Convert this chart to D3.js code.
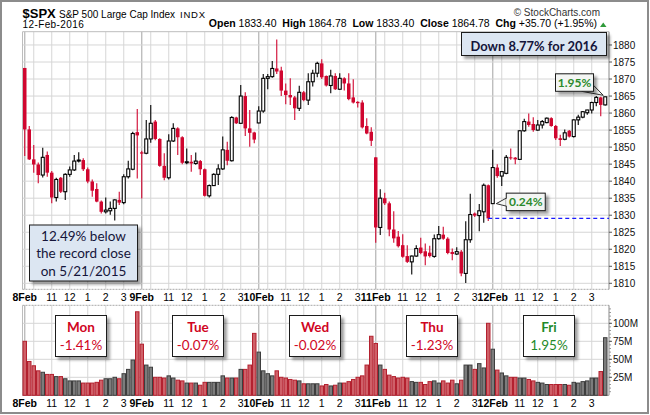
<!DOCTYPE html>
<html><head><meta charset="utf-8">
<script src="https://cdn.jsdelivr.net/npm/d3@7"></script>
<style>body{margin:0;background:#fff}svg{display:block}</style>
</head><body>
<svg id="c" width="650" height="415"></svg>
<script>
// ---------- DATA ----------
const dayLabels = ["8Feb","9Feb","10Feb","11Feb","12Feb"];
const dayNames = ["Mon","Tue","Wed","Thu","Fri"];
const dayChanges = ["-1.41%","-0.07%","-0.02%","-1.23%","1.95%"];
const hourLabels = ["11","12","1","2","3"];
const hourOffsets = [6,10,14,18,22];
const gridOffsets = [2,6,10,14,18,22];
const barsPerDay = 26;
const priceTicks = [1810,1815,1820,1825,1830,1835,1840,1845,1850,1855,1860,1865,1870,1875,1880];
const volumeTicks = [25,50,75,100];
const volumeTickLabels = ["25M","50M","75M","100M"];

const open = [
1873.25,1855.2,1846.4,1844.9,1841.8,1847.7,1842.5,1835.2,1841.0,1836.9,1842.0,1843.3,1845.9,1846.2,1843.5,1839.9,1837.7,1834.0,1831.0,1831.3,1832.0,1834.5,1833.7,1841.3,1843.5,1854.4,
1848.46,1848.2,1852.4,1857.5,1852.4,1844.5,1841.0,1851.8,1855.5,1852.9,1845.4,1845.7,1845.2,1845.9,1843.5,1835.7,1838.7,1842.0,1843.6,1849.2,1846.0,1858.7,1857.0,1865.0,1855.5,1854.3,
1857.1,1860.6,1870.2,1870.7,1873.1,1872.5,1866.6,1865.3,1864.6,1861.4,1866.1,1863.8,1869.2,1871.7,1874.6,1870.9,1868.1,1870.9,1867.0,1870.2,1868.7,1864.6,1863.3,1863.1,1856.2,1854.5,
1847.0,1826.4,1835.0,1833.5,1825.8,1823.7,1821.2,1818.0,1816.3,1818.0,1820.5,1819.4,1819.0,1817.9,1823.1,1824.3,1823.1,1819.2,1818.6,1819.3,1812.9,1822.8,1830.5,1829.9,1831.0,1838.8,
1833.4,1844.0,1841.5,1842.3,1847.0,1846.9,1846.4,1854.8,1857.5,1856.8,1855.0,1856.5,1857.2,1858.5,1856.2,1852.6,1852.3,1854.8,1853.1,1858.0,1858.8,1860.1,1860.9,1863.1,1864.6,1862.4];
const high = [
1873.25,1856.2,1850.6,1845.5,1849.8,1848.7,1843.0,1841.0,1841.2,1842.3,1844.3,1847.7,1848.5,1846.7,1844.0,1840.5,1839.4,1834.3,1835.2,1834.0,1834.7,1836.9,1842.0,1846.0,1854.5,1861.2,
1848.9,1858.0,1862.4,1858.0,1852.6,1848.2,1853.8,1857.0,1855.8,1853.2,1849.6,1847.7,1848.4,1846.2,1843.7,1839.0,1842.3,1845.0,1853.1,1851.6,1859.1,1858.9,1868.25,1866.1,1860.9,1854.5,
1862.0,1871.5,1871.5,1875.3,1881.6,1873.6,1868.7,1870.2,1865.0,1868.0,1866.5,1871.7,1872.7,1875.1,1875.8,1871.0,1872.7,1871.7,1871.7,1870.5,1871.7,1869.9,1863.5,1863.8,1858.5,1855.8,
1847.0,1837.6,1836.6,1834.0,1831.2,1825.4,1824.4,1821.2,1818.2,1821.2,1823.4,1821.7,1821.0,1824.3,1826.8,1826.6,1823.5,1820.2,1820.6,1819.8,1828.2,1836.3,1830.8,1833.3,1839.3,1839.0,
1849.2,1845.0,1843.0,1847.7,1849.6,1847.1,1855.0,1858.3,1859.9,1858.8,1858.0,1858.0,1858.7,1858.8,1856.5,1853.6,1855.2,1855.0,1858.2,1859.5,1860.6,1861.0,1863.3,1865.0,1864.8,1864.78];
const low = [
1847.4,1846.2,1842.5,1839.4,1841.1,1841.3,1833.5,1834.0,1836.5,1834.5,1841.3,1843.0,1845.5,1843.0,1839.4,1835.4,1833.8,1830.5,1830.5,1830.1,1828.46,1833.0,1833.2,1840.8,1843.2,1840.8,
1834.94,1847.9,1851.3,1852.0,1844.2,1840.3,1840.5,1851.5,1847.7,1845.0,1845.0,1842.8,1844.8,1841.8,1835.5,1835.2,1838.6,1838.9,1843.3,1844.7,1845.8,1856.8,1856.8,1853.3,1850.1,1851.1,
1857.0,1860.1,1867.0,1870.4,1871.5,1865.0,1862.6,1862.4,1858.0,1860.6,1863.5,1862.4,1867.8,1870.5,1870.0,1867.8,1865.8,1866.8,1866.8,1866.6,1863.8,1862.8,1861.6,1855.5,1853.8,1850.32,
1821.9,1824.2,1833.0,1823.8,1821.9,1820.5,1817.5,1816.0,1812.6,1817.8,1818.5,1815.3,1817.6,1817.5,1822.8,1822.8,1818.5,1816.8,1818.3,1812.1,1810.1,1821.9,1829.5,1825.3,1827.8,1828.3,
1833.4,1841.0,1838.6,1842.0,1846.3,1845.0,1846.2,1854.5,1856.0,1854.5,1854.8,1855.5,1857.0,1856.0,1852.1,1850.3,1852.0,1852.8,1852.8,1856.5,1858.5,1859.5,1859.9,1862.0,1859.1,1862.2];
const close = [
1855.2,1846.4,1844.9,1841.8,1847.0,1842.5,1835.2,1840.5,1836.9,1842.0,1843.3,1845.9,1846.2,1843.5,1839.9,1837.2,1834.0,1831.0,1831.5,1832.0,1834.5,1833.7,1841.3,1843.6,1854.0,1853.44,
1848.1,1852.4,1857.0,1852.4,1844.5,1841.0,1851.8,1855.5,1852.9,1845.4,1845.7,1845.2,1845.9,1843.5,1835.7,1838.7,1842.0,1843.6,1849.2,1846.0,1858.7,1857.0,1865.0,1855.5,1854.2,1852.21,
1860.6,1870.2,1870.7,1873.1,1872.2,1866.6,1865.3,1864.6,1861.4,1866.1,1863.8,1869.2,1871.7,1874.6,1870.5,1868.1,1870.9,1867.0,1870.2,1868.7,1864.1,1863.1,1862.9,1855.8,1854.0,1851.86,
1826.4,1835.0,1833.5,1825.8,1823.2,1820.9,1817.8,1816.3,1818.0,1820.2,1818.9,1817.9,1818.0,1823.1,1824.3,1823.1,1818.9,1818.6,1819.3,1812.9,1822.8,1830.2,1829.9,1831.3,1838.8,1829.08,
1844.0,1841.5,1842.8,1847.0,1846.7,1846.4,1854.8,1857.5,1856.5,1855.0,1856.5,1857.5,1858.5,1856.2,1852.6,1852.1,1854.2,1853.1,1858.0,1858.8,1860.4,1860.9,1863.1,1864.6,1862.4,1864.78];
const volume = [
75,47,41,34,32,29,29,26,26,23,20,20,20,17,17,17,18,21,23,23,25,23,30,36,49,116,
71,42,39,25,25,24,27,24,21,20,17,17,17,14,18,18,18,18,27,24,24,24,36,36,42,86,
60,34,30,27,34,25,24,22,21,20,16,16,16,16,13,15,13,14,17,17,19,22,25,27,42,82,
72,42,36,28,26,24,25,24,19,18,18,15,19,20,17,20,17,21,16,21,42,42,36,44,38,100,
64,35,31,27,25,25,24,24,22,20,18,17,15,15,15,15,15,14,18,17,19,20,24,24,33,80];
const prevClose = 1829.08;
const fridayOpen = 1833.40;
const gapLabel = "0.24%";
const lastLabel = "1.95%";
const yearNote = "Down 8.77% for 2016";
const recordNote = ["12.49% below","the record close","on 5/21/2015"];

// ---------- LAYOUT ----------
const svg = d3.select("#c");
const L = 22.5, R = 609;
const mainTop = 31.7, mainBot = 289.3, volTop = 305.3, volBot = 395.3;
const N = open.length;
const AR = "'Liberation Sans', Arial, sans-serif";
const CAL = "Lato, 'Open Sans', sans-serif";
const RED = "#d0062f";

const x = d3.scaleBand().domain(d3.range(N)).range([L, L + 4.5 * N]).padding(0);
const cx = i => x(i) + x.bandwidth() / 2;
const cxf = f => x(0) + x.step() * f + x.bandwidth() / 2;   // fractional bar position
const y = d3.scaleLinear().domain([1808.24, 1883.9]).range([mainBot, mainTop]);
const yv = d3.scaleLinear().domain([0, 125]).range([volBot, volTop]);

const defs = svg.append("defs");
defs.append("filter").attr("id","sh").attr("x","-20%").attr("y","-20%").attr("width","150%").attr("height","170%")
  .append("feDropShadow").attr("dx",3).attr("dy",3).attr("stdDeviation",1.6)
  .attr("flood-color","#000").attr("flood-opacity",0.38);

svg.append("rect").attr("width",650).attr("height",415).attr("fill","#fff");

// grids
function vGrid(top, bot) {
  const g = svg.append("g");
  dayLabels.forEach((d, k) => {
    gridOffsets.forEach(o => {
      const xx = cx(k * barsPerDay + o);
      g.append("line").attr("x1",xx).attr("x2",xx).attr("y1",top).attr("y2",bot)
        .attr("stroke","#d6d6d6").attr("stroke-width",1);
    });
  });
  dayLabels.forEach((d, k) => {
    const xx = cx(k * barsPerDay);
    g.append("line").attr("x1",xx).attr("x2",xx).attr("y1",top).attr("y2",bot)
      .attr("stroke","#b3b3b3").attr("stroke-width",1.2);
  });
}
vGrid(mainTop, mainBot);
vGrid(volTop, volBot);

priceTicks.forEach(v => {
  svg.append("line").attr("x1",L).attr("x2",R).attr("y1",y(v)).attr("y2",y(v))
    .attr("stroke","#d6d6d6").attr("stroke-width",1);
});
volumeTicks.forEach(v => {
  svg.append("line").attr("x1",L).attr("x2",R).attr("y1",yv(v)).attr("y2",yv(v))
    .attr("stroke","#d6d6d6").attr("stroke-width",1);
});

// panel frames
svg.append("line").attr("x1",L).attr("x2",R).attr("y1",mainTop).attr("y2",mainTop).attr("stroke","#bdbdbd");
svg.append("line").attr("x1",L).attr("x2",L).attr("y1",mainTop).attr("y2",mainBot).attr("stroke","#bdbdbd");
svg.append("line").attr("x1",L).attr("x2",R).attr("y1",mainBot).attr("y2",mainBot).attr("stroke","#a8a8a8").attr("stroke-dasharray","2,1");
svg.append("line").attr("x1",L).attr("x2",R).attr("y1",volTop).attr("y2",volTop).attr("stroke","#a8a8a8").attr("stroke-dasharray","2,1");
svg.append("line").attr("x1",L).attr("x2",L).attr("y1",volTop).attr("y2",volBot).attr("stroke","#bdbdbd");
svg.append("line").attr("x1",L).attr("x2",R).attr("y1",volBot).attr("y2",volBot).attr("stroke","#a0a0a0");
svg.append("line").attr("x1",R).attr("x2",R).attr("y1",mainTop).attr("y2",mainBot).attr("stroke","#8a8a8a");
svg.append("line").attr("x1",R).attr("x2",R).attr("y1",volTop).attr("y2",volBot).attr("stroke","#8a8a8a");

// right axes
priceTicks.forEach(v => {
  svg.append("line").attr("x1",R).attr("x2",R+3).attr("y1",y(v)).attr("y2",y(v)).attr("stroke","#555");
  svg.append("text").attr("x",R+4).attr("y",y(v)+3.6).text(v)
    .attr("font-family",AR).attr("font-size",10).attr("fill","#111");
});
d3.range(5,125,5).forEach(v => {
  svg.append("line").attr("x1",R).attr("x2",R+2).attr("y1",yv(v)).attr("y2",yv(v)).attr("stroke","#999");
});
volumeTicks.forEach((v, k) => {
  svg.append("line").attr("x1",R).attr("x2",R+3).attr("y1",yv(v)).attr("y2",yv(v)).attr("stroke","#555");
  svg.append("text").attr("x",R+4).attr("y",yv(v)+3.6).text(volumeTickLabels[k])
    .attr("font-family",AR).attr("font-size",10).attr("fill","#111");
});

// time labels (two rows)
[301, 406.5].forEach(yy => {
  dayLabels.forEach((d, k) => {
    svg.append("text").attr("x",cx(k*barsPerDay)).attr("y",yy).attr("text-anchor","middle")
      .attr("font-family",AR).attr("font-weight","bold").attr("font-size",10.5).attr("fill","#000").text(d);
    hourLabels.forEach((h, j) => {
      svg.append("text").attr("x",cx(k*barsPerDay + hourOffsets[j])).attr("y",yy).attr("text-anchor","middle")
        .attr("font-family",AR).attr("font-size",10.5).attr("fill","#000").text(h);
    });
  });
});

// volume bars
const bars = d3.range(N).map(i => ({i, o: open[i], h: high[i], l: low[i], c: close[i], v: volume[i]}));
svg.append("g").selectAll("rect").data(bars).join("rect")
  .attr("x", d => x(d.i) + 0.5).attr("width", x.bandwidth() - 1)
  .attr("y", d => yv(d.v)).attr("height", d => volBot - yv(d.v))
  .attr("fill", d => d.c < d.o ? "#cf6068" : "#7c7c7c")
  .attr("stroke", d => d.c < d.o ? "#b3212f" : "#3e3e3e").attr("stroke-width", 1);

// candles
const cg = svg.append("g");
cg.selectAll("line").data(bars).join("line")
  .attr("x1", d => cx(d.i)).attr("x2", d => cx(d.i))
  .attr("y1", d => y(d.h)).attr("y2", d => y(d.l))
  .attr("stroke", d => d.c < d.o ? RED : "#000").attr("stroke-width", 1.1);
cg.selectAll("rect").data(bars).join("rect")
  .attr("x", d => d.c < d.o ? cx(d.i) - 1.75 : cx(d.i) - 1.5)
  .attr("width", d => d.c < d.o ? 3.5 : 3)
  .attr("y", d => y(Math.max(d.o, d.c)))
  .attr("height", d => Math.max(1, Math.abs(y(d.o) - y(d.c))))
  .attr("fill", d => d.c < d.o ? RED : "#fff")
  .attr("stroke", d => d.c < d.o ? "none" : "#000").attr("stroke-width", 1.1);

// previous close dashed line
svg.append("line").attr("x1", cx(N - barsPerDay - 1)).attr("x2", R)
  .attr("y1", y(prevClose)).attr("y2", y(prevClose))
  .attr("stroke","#1a1aff").attr("stroke-width",1.4).attr("stroke-dasharray","4,3");

// ---------- ANNOTATIONS ----------
function box(x0, y0, w, h, fill) {
  svg.append("rect").attr("x",x0).attr("y",y0).attr("width",w).attr("height",h)
    .attr("fill",fill).attr("stroke","#1a1a1a").attr("stroke-width",1).attr("filter","url(#sh)");
}

// year note
box(461.5, 32.5, 145, 23, "#dce6f2");
svg.append("text").attr("x",534).attr("y",50.5).attr("text-anchor","middle")
  .attr("font-family",CAL).attr("font-weight","bold").attr("font-size",14)
  .attr("textLength",127).attr("lengthAdjust","spacingAndGlyphs").attr("fill","#14143a").text(yearNote);

// record note
box(29.5, 225, 108, 56, "#dce6f2");
recordNote.forEach((t, k) => {
  svg.append("text").attr("x",83.5).attr("y",240.5 + k * 17.8).attr("text-anchor","middle")
    .attr("font-family",CAL).attr("font-size",13.5).attr("fill","#15153a").text(t);
});

// gap callout
{
  const tx = cx(N - barsPerDay) + 3.5, ty = y(fridayOpen);
  const bx = tx + 10, by = ty - 10.5, bw = 39, bh = 17.5;
  svg.append("path").attr("d",`M${bx},${by+5} L${tx},${ty} L${bx},${by+13}`)
    .attr("fill","#f3f5f3").attr("stroke","#333").attr("stroke-width",1);
  box(bx, by, bw, bh, "#f3f5f3");
  svg.append("path").attr("d",`M${bx+0.6},${by+5.5} L${bx+0.6},${by+12.5}`).attr("stroke","#f3f5f3").attr("stroke-width",1.5);
  svg.append("text").attr("x",bx+bw/2).attr("y",by+13.3).attr("text-anchor","middle")
    .attr("font-family",CAL).attr("font-weight","bold").attr("font-size",12).attr("fill","#2b8a2b").text(gapLabel);
}
// last callout
{
  const tx = cx(N - 1) - 2, ty = y(close[N - 1]) - 1.5;
  const bx = 555.5, by = ty - 21.5, bw = 38, bh = 17.5;
  svg.append("path").attr("d",`M${bx+bw-12},${by+bh} L${tx},${ty} L${bx+bw},${by+bh-6}`)
    .attr("fill","#f3f5f3").attr("stroke","#333").attr("stroke-width",1);
  box(bx, by, bw, bh, "#f3f5f3");
  svg.append("text").attr("x",bx+bw/2).attr("y",by+13.3).attr("text-anchor","middle")
    .attr("font-family",CAL).attr("font-weight","bold").attr("font-size",12).attr("fill","#2b8a2b").text(lastLabel);
}

// daily change boxes in volume panel
dayNames.forEach((n, k) => {
  const c = cxf(k * barsPerDay + 12.5);
  const col = dayChanges[k].startsWith("-") ? "#d0061f" : "#1f8a2a";
  box(c - 25.5, 315.5, 51, 41, "#fff");
  svg.append("text").attr("x",c).attr("y",332).attr("text-anchor","middle")
    .attr("font-family",CAL).attr("font-weight","bold").attr("font-size",13.5).attr("fill",col).text(n);
  svg.append("text").attr("x",c).attr("y",350).attr("text-anchor","middle")
    .attr("font-family",CAL).attr("font-size",13.5).attr("fill",col).text(dayChanges[k]);
});

// ---------- HEADER ----------
svg.append("text").attr("x",22.5).attr("y",17.5).attr("font-family",AR).attr("font-weight","bold")
  .attr("font-size",13).attr("fill","#000").text("$SPX");
svg.append("text").attr("x",59).attr("y",17.5).attr("font-family",AR)
  .attr("font-size",10).attr("fill","#000").text("S&P 500 Large Cap Index");
svg.append("text").attr("x",180).attr("y",17.5).attr("font-family",AR)
  .attr("font-size",9.5).attr("letter-spacing",0.8).attr("fill","#000").text("INDX");
svg.append("text").attr("x",22.5).attr("y",28).attr("font-family",AR)
  .attr("font-size",10).attr("letter-spacing",0.4).attr("fill","#000").text("12-Feb-2016");
svg.append("text").attr("x",600).attr("y",16).attr("text-anchor","end").attr("font-family",AR)
  .attr("font-size",10).attr("fill","#333").text("\u00A9 StockCharts.com");

const hdr = svg.append("text").attr("x",597).attr("y",27).attr("text-anchor","end")
  .attr("font-family",AR).attr("font-size",10.5).attr("fill","#000").attr("xml:space","preserve");
const parts = [["Open",true],[" 1833.40  ",false],["High",true],[" 1864.78  ",false],["Low",true],
  [" 1833.40  ",false],["Close",true],[" 1864.78  ",false],["Chg",true],[" +35.70 (+1.95%)",false]];
parts.forEach(([t, b]) => hdr.append("tspan").attr("font-weight", b ? "bold" : "normal").text(t));
svg.append("path").attr("d","M600,27 L606.5,27 L603.25,22.5 Z").attr("fill","#2f9a3a");

// outer frame
svg.append("rect").attr("x",1).attr("y",1).attr("width",647).attr("height",412)
  .attr("fill","none").attr("stroke","#8c8c8c").attr("stroke-width",2);
</script>
</body></html>
